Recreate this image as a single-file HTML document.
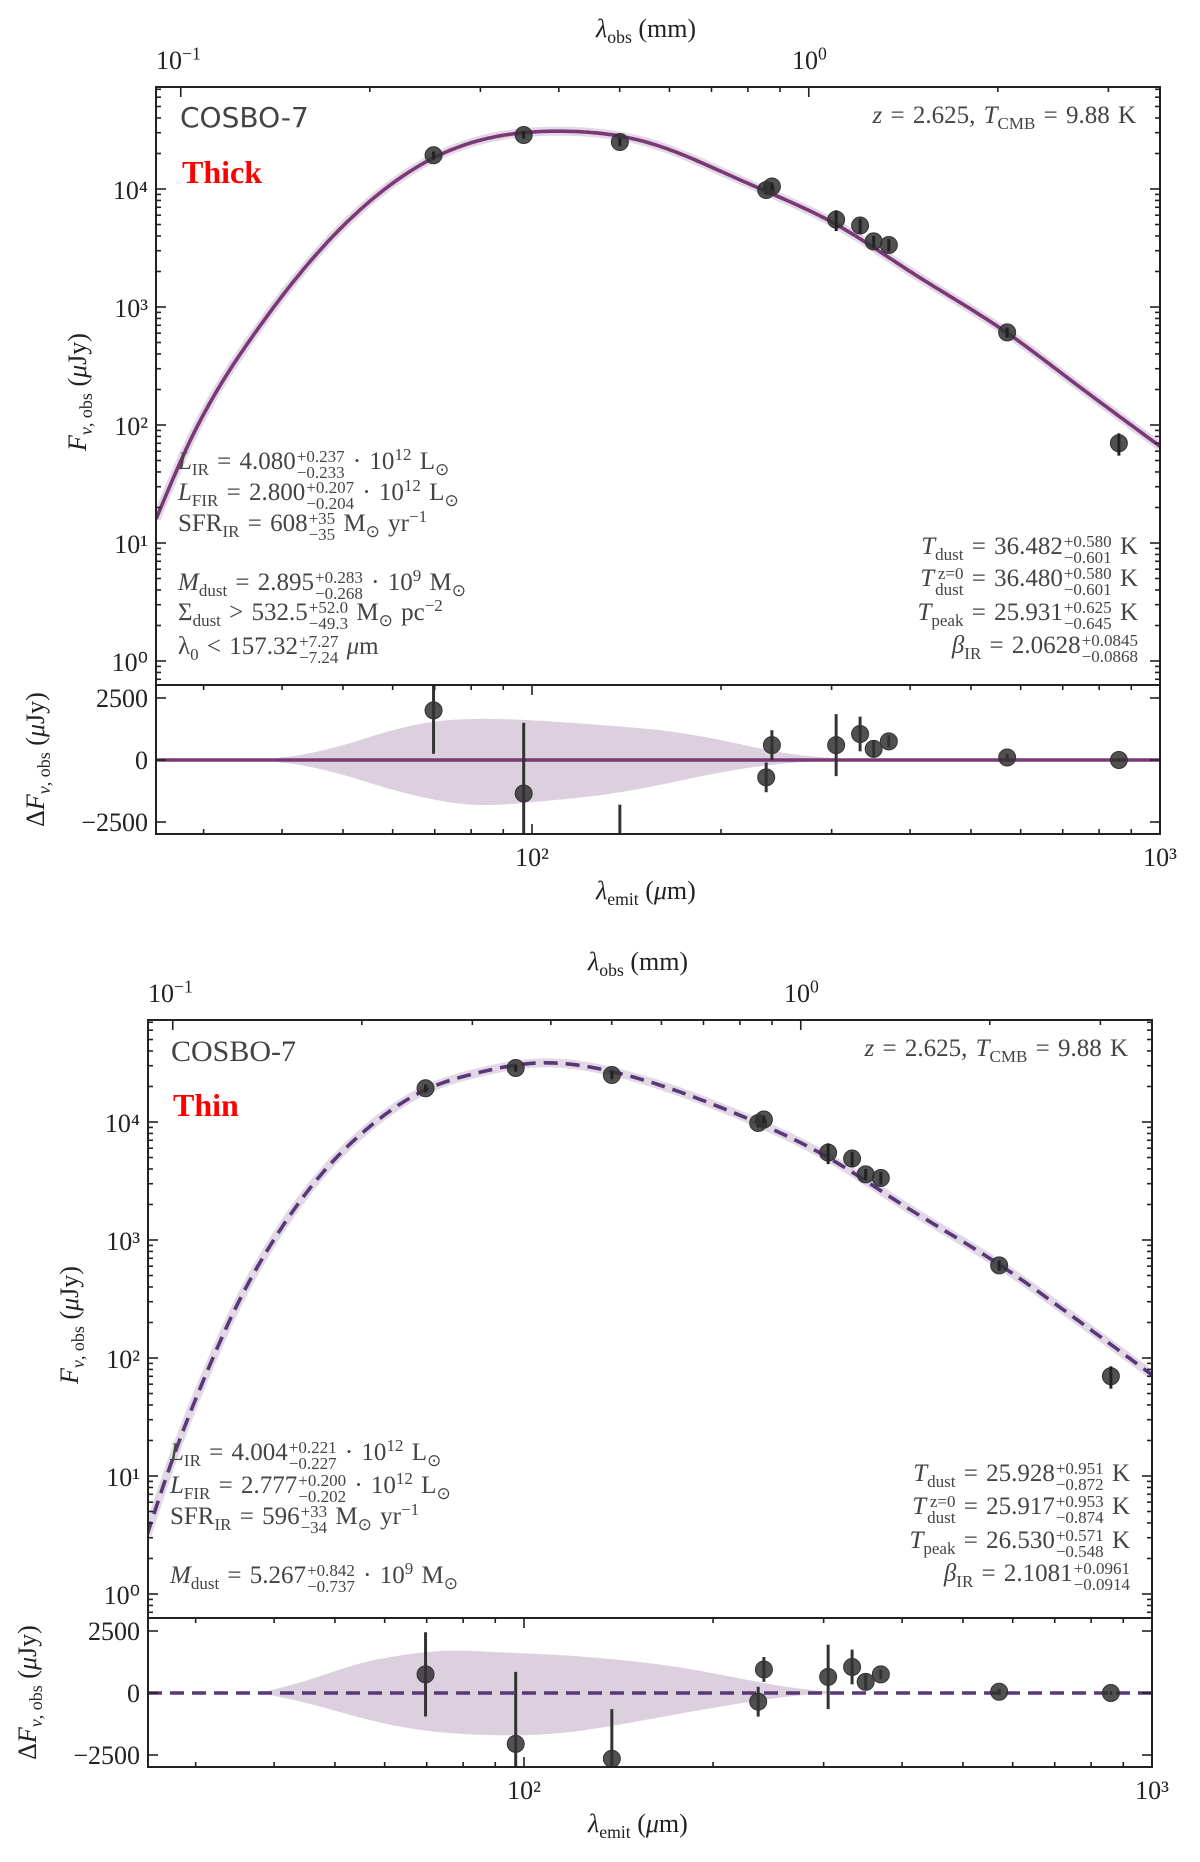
<!DOCTYPE html>
<html><head><meta charset="utf-8">
<style>
body{margin:0;background:#fff;}
#wrap{position:relative;width:1200px;height:1862px;overflow:hidden;font-family:"Liberation Serif",serif;}
svg{position:absolute;left:0;top:0;}
.t{position:absolute;white-space:nowrap;color:#444;font-size:25px;line-height:1;word-spacing:2px;}
.tr{text-align:right;}
.ss{display:inline-flex;flex-direction:column;font-size:0.68em;line-height:0.95;vertical-align:0.42em;margin-left:1px;}
.lab{position:absolute;white-space:nowrap;color:#222;font-size:26px;line-height:1;}
sub,sup{font-size:0.68em;line-height:0;}
.name{color:#444;font-size:30px;}
.red{color:#f00;font-weight:bold;font-size:32px;}
</style></head><body>
<div id="wrap">
<svg id="svg" width="1200" height="1862"></svg>

<!-- TOP PANEL TEXT -->
<div class="lab" style="left:596px;top:16px"><i>λ</i><sub>obs</sub> (mm)</div>
<div class="lab" style="left:156px;top:48px">10<sup>−1</sup></div>
<div class="lab" style="left:792px;top:48px">10<sup>0</sup></div>
<div class="t name" style="left:180px;top:104px;font-family:'DejaVu Sans',sans-serif;font-size:28px">COSBO-7</div>
<div class="t red" style="left:182px;top:156px">Thick</div>
<div class="t" style="right:64px;top:103px"><i>z</i> = 2.625, <i>T</i><sub>CMB</sub> = 9.88 K</div>
<div class="t" style="left:178px;top:449px"><i>L</i><sub>IR</sub> = 4.080<span class="ss"><span>+0.237</span><span>−0.233</span></span> · 10<sup>12</sup> L<sub>⊙</sub></div>
<div class="t" style="left:178px;top:480px"><i>L</i><sub>FIR</sub> = 2.800<span class="ss"><span>+0.207</span><span>−0.204</span></span> · 10<sup>12</sup> L<sub>⊙</sub></div>
<div class="t" style="left:178px;top:511px">SFR<sub>IR</sub> = 608<span class="ss"><span>+35</span><span>−35</span></span> M<sub>⊙</sub> yr<sup>−1</sup></div>
<div class="t" style="left:178px;top:570px"><i>M</i><sub>dust</sub> = 2.895<span class="ss"><span>+0.283</span><span>−0.268</span></span> · 10<sup>9</sup> M<sub>⊙</sub></div>
<div class="t" style="left:178px;top:600px">Σ<sub>dust</sub> &gt; 532.5<span class="ss"><span>+52.0</span><span>−49.3</span></span> M<sub>⊙</sub> pc<sup>−2</sup></div>
<div class="t" style="left:178px;top:634px">λ<sub>0</sub> &lt; 157.32<span class="ss"><span>+7.27</span><span>−7.24</span></span> <i>μ</i>m</div>
<div class="t tr" style="right:62px;top:534px"><i>T</i><sub>dust</sub> = 36.482<span class="ss"><span>+0.580</span><span>−0.601</span></span> K</div>
<div class="t tr" style="right:62px;top:566px"><i>T</i><span class="ss"><span>z=0</span><span>dust</span></span> = 36.480<span class="ss"><span>+0.580</span><span>−0.601</span></span> K</div>
<div class="t tr" style="right:62px;top:600px"><i>T</i><sub>peak</sub> = 25.931<span class="ss"><span>+0.625</span><span>−0.645</span></span> K</div>
<div class="t tr" style="right:62px;top:633px"><i>β</i><sub>IR</sub> = 2.0628<span class="ss"><span>+0.0845</span><span>−0.0868</span></span></div>
<div class="lab" style="left:596px;top:878px"><i>λ</i><sub>emit</sub> (<i>μ</i>m)</div>

<!-- BOTTOM PANEL TEXT -->
<div class="lab" style="left:588px;top:949px"><i>λ</i><sub>obs</sub> (mm)</div>
<div class="lab" style="left:148px;top:981px">10<sup>−1</sup></div>
<div class="lab" style="left:784px;top:981px">10<sup>0</sup></div>
<div class="t name" style="left:171px;top:1037px">COSBO-7</div>
<div class="t red" style="left:173px;top:1089px">Thin</div>
<div class="t" style="right:72px;top:1036px"><i>z</i> = 2.625, <i>T</i><sub>CMB</sub> = 9.88 K</div>
<div class="t" style="left:170px;top:1440px"><i>L</i><sub>IR</sub> = 4.004<span class="ss"><span>+0.221</span><span>−0.227</span></span> · 10<sup>12</sup> L<sub>⊙</sub></div>
<div class="t" style="left:170px;top:1473px"><i>L</i><sub>FIR</sub> = 2.777<span class="ss"><span>+0.200</span><span>−0.202</span></span> · 10<sup>12</sup> L<sub>⊙</sub></div>
<div class="t" style="left:170px;top:1504px">SFR<sub>IR</sub> = 596<span class="ss"><span>+33</span><span>−34</span></span> M<sub>⊙</sub> yr<sup>−1</sup></div>
<div class="t" style="left:170px;top:1563px"><i>M</i><sub>dust</sub> = 5.267<span class="ss"><span>+0.842</span><span>−0.737</span></span> · 10<sup>9</sup> M<sub>⊙</sub></div>
<div class="t tr" style="right:70px;top:1461px"><i>T</i><sub>dust</sub> = 25.928<span class="ss"><span>+0.951</span><span>−0.872</span></span> K</div>
<div class="t tr" style="right:70px;top:1494px"><i>T</i><span class="ss"><span>z=0</span><span>dust</span></span> = 25.917<span class="ss"><span>+0.953</span><span>−0.874</span></span> K</div>
<div class="t tr" style="right:70px;top:1528px"><i>T</i><sub>peak</sub> = 26.530<span class="ss"><span>+0.571</span><span>−0.548</span></span> K</div>
<div class="t tr" style="right:70px;top:1561px"><i>β</i><sub>IR</sub> = 2.1081<span class="ss"><span>+0.0961</span><span>−0.0914</span></span></div>
<div class="lab" style="left:588px;top:1811px"><i>λ</i><sub>emit</sub> (<i>μ</i>m)</div>
</div>

<script>
// ---- data ----
const obsLam = [69.7, 97, 138, 236, 241, 305, 333, 350, 370, 571, 860];
const obsFlux = [19300, 28700, 25000, 9800, 10500, 5500, 4900, 3600, 3350, 610, 70];
const obsFluxErr = [1500, 2000, 2000, 800, 800, 1100, 700, 400, 400, 60, 15];

const thickModelLam = [25.2, 28.5, 35.6, 45.5, 58, 69.5, 83.6, 111, 154, 200, 236, 305, 400, 571, 700, 1000];
const thickModelFlux = [16, 72, 530, 2850, 9770, 18200, 26300, 30900, 24500, 14100, 9550, 5010, 2000, 603, 270, 66];
const thickResid = [2000, -1350, -3700, -700, 600, 600, 1050, 450, 750, 100, 0];
const thickResidErr = [1750, 2850, 1900, 600, 600, 1250, 700, 350, 250, 150, 80];
const thickBandLam = [35, 40, 50, 60, 70, 80, 100, 130, 160, 200, 250, 300, 400];
const thickBandUp = [0, 100, 600, 1200, 1550, 1650, 1600, 1400, 1200, 800, 300, 80, 0];
const thickBandLo = [0, -100, -600, -1200, -1600, -1800, -1700, -1400, -1000, -500, -150, -30, 0];

const thinModelLam = [25.1, 27.6, 31.1, 35, 39.3, 44.3, 49.9, 56.2, 69.5, 83.4, 105, 135, 200, 236, 305, 400, 571, 700, 1000];
const thinModelFlux = [3.16, 14.1, 71, 288, 871, 2240, 4790, 8710, 18600, 25700, 31600, 27500, 14100, 9800, 5000, 2000, 620, 290, 72];
const thinResid = [750, -2050, -2650, -350, 950, 650, 1050, 450, 750, 50, 0];
const thinResidErr = [1700, 2900, 2000, 600, 500, 1300, 700, 300, 200, 120, 80];
const thinBandLam = [38, 45, 55, 65, 75, 90, 110, 140, 180, 230, 280, 330];
const thinBandUp = [0, 500, 1200, 1550, 1700, 1650, 1550, 1350, 1000, 500, 150, 0];
const thinBandLo = [0, -400, -1000, -1400, -1600, -1700, -1650, -1300, -800, -350, -80, 0];

const yTickLabels = ["10⁰","10¹","10²","10³","10⁴"];
const residTicks = [2500, 0, -2500];
const residTickLabels = ["2500", "0", "−2500"];

// ---- drawing ----
const NS = "http://www.w3.org/2000/svg";
const svg = document.getElementById('svg');
function mk(tag, attrs, parent) {
  const e = document.createElementNS(NS, tag);
  for (const k in attrs) e.setAttribute(k, attrs[k]);
  (parent || svg).appendChild(e);
  return e;
}
function spline(xs, ys) {
  const n = xs.length, h = [], a = [], l = [1], mu = [0], z = [0], c = new Array(n).fill(0), b = [], d = [];
  for (let i = 0; i < n - 1; i++) h.push(xs[i + 1] - xs[i]);
  for (let i = 1; i < n - 1; i++) a[i] = 3 / h[i] * (ys[i + 1] - ys[i]) - 3 / h[i - 1] * (ys[i] - ys[i - 1]);
  for (let i = 1; i < n - 1; i++) {
    l[i] = 2 * (xs[i + 1] - xs[i - 1]) - h[i - 1] * mu[i - 1];
    mu[i] = h[i] / l[i];
    z[i] = (a[i] - h[i - 1] * z[i - 1]) / l[i];
  }
  for (let j = n - 2; j >= 0; j--) {
    c[j] = (j === 0 ? 0 : z[j]) - (j === 0 ? 0 : mu[j]) * c[j + 1];
    b[j] = (ys[j + 1] - ys[j]) / h[j] - h[j] * (c[j + 1] + 2 * c[j]) / 3;
    d[j] = (c[j + 1] - c[j]) / (3 * h[j]);
  }
  return x => {
    let i = 0;
    while (i < n - 2 && x > xs[i + 1]) i++;
    const dx = x - xs[i];
    return ys[i] + b[i] * dx + c[i] * dx * dx + d[i] * dx * dx * dx;
  };
}
function linePath(pts) {
  return pts.map((p, i) => (i ? "L" : "M") + p[0].toFixed(1) + "," + p[1].toFixed(1)).join(" ");
}

function panel(cfg) {
  const {x0, x1, top, mid, bot, key, color, dash, mLam, mFlux, res, resErr, bLam, bUp, bLo} = cfg;
  const xAt100 = x0 + 376;
  const X = l => xAt100 + 628 * (Math.log10(l) - 2);
  const y1e4 = top + 102;
  const Y = f => y1e4 - 118 * (Math.log10(f) - 4);
  const yZero = top + 673;
  const YR = v => yZero - v * 62 / 2500;

  const cm = mk('clipPath', {id: 'cm' + key});
  mk('rect', {x: x0, y: top, width: x1 - x0, height: mid - top}, cm);
  const cr = mk('clipPath', {id: 'cr' + key});
  mk('rect', {x: x0, y: mid, width: x1 - x0, height: bot - mid}, cr);

  const gm = mk('g', {'clip-path': 'url(#cm' + key + ')'});
  
  
  const f = spline(mLam.map(Math.log10), mFlux.map(Math.log10));
  const lo = Math.log10(mLam[0]), hi = Math.log10(mLam[mLam.length - 1]);
  const pts = [];
  for (let k = 0; k <= 300; k++) {
    const lx = lo + (hi - lo) * k / 300;
    pts.push([X(Math.pow(10, lx)), Y(Math.pow(10, f(lx)))]);
  }
  const d = linePath(pts);
  const band = mk('path', {d: d, fill: 'none', stroke: '#e3d8e5', 'stroke-width': 9}, gm);
  
  
  const line = mk('path', {d: d, fill: 'none', stroke: color, 'stroke-width': 3.6, 'stroke-dasharray': dash}, gm);
  
  
  obsLam.forEach((l, i) => {
    const cx = X(l), cy = Y(obsFlux[i]);
    const c = mk('circle', {cx: cx, cy: cy, r: 8.5, fill: 'rgba(50,50,50,0.85)', stroke: '#333', 'stroke-width': 1}, gm);
    
    
    const eb = mk('line', {x1: cx, x2: cx, y1: Y(obsFlux[i] + obsFluxErr[i]), y2: Y(Math.max(1e-3, obsFlux[i] - obsFluxErr[i])), stroke: '#222', 'stroke-width': 3}, gm);
    
    
  });

  const gr = mk('g', {'clip-path': 'url(#cr' + key + ')'});
  
  
  const bx = bLam.map(Math.log10);
  const fu = spline(bx, bUp), fl = spline(bx, bLo);
  const up = [], dn = [];
  for (let k = 0; k <= 200; k++) {
    const lx = bx[0] + (bx[bx.length - 1] - bx[0]) * k / 200;
    up.push([X(Math.pow(10, lx)), YR(fu(lx))]);
    dn.push([X(Math.pow(10, lx)), YR(fl(lx))]);
  }
  const rb = mk('path', {d: linePath(up.concat(dn.reverse())) + " Z", fill: '#ddd0de', stroke: 'none'}, gr);
  
  
  const zl = mk('line', {x1: x0, x2: x1, y1: YR(0), y2: YR(0), stroke: color, 'stroke-width': 3.6, 'stroke-dasharray': dash}, gr);
  
  
  obsLam.forEach((l, i) => {
    const cx = X(l);
    const eb = mk('line', {x1: cx, x2: cx, y1: YR(res[i] + resErr[i]), y2: YR(res[i] - resErr[i]), stroke: '#333', 'stroke-width': 3}, gr);
    
    
    const c = mk('circle', {cx: cx, cy: YR(res[i]), r: 8.5, fill: 'rgba(50,50,50,0.85)', stroke: '#333', 'stroke-width': 1}, gr);
    
    
  });

  // ticks
  const tk = mk('g', {stroke: '#222', 'stroke-width': 1.6});
  
  
  for (let e = -1; e <= 4; e++) for (let m = 1; m < 10; m++) {
    const v = m * Math.pow(10, e), y = Y(v);
    if (y < top + 1 || y > mid - 1) continue;
    const len = m === 1 ? 10 : 5;
    mk('line', {x1: x0, x2: x0 + len, y1: y, y2: y}, tk);
    mk('line', {x1: x1, x2: x1 - len, y1: y, y2: y}, tk);
  }
  [0.1,0.2,0.3,0.4,0.5,0.6,0.7,0.8,0.9,1,2,3].forEach(mm => {
    const x = X(mm * 1000 / 3.625);
    if (x < x0 || x > x1) return;
    const len = (mm === 0.1 || mm === 1) ? 10 : 5;
    mk('line', {x1: x, x2: x, y1: top, y2: top + len}, tk);
  });
  for (let e = 1; e <= 2; e++) for (let m = 1; m < 10; m++) {
    const x = X(m * Math.pow(10, e));
    if (x < x0 + 1 || x > x1 + 1) continue;
    const len = m === 1 ? 10 : 5;
    mk('line', {x1: x, x2: x, y1: bot, y2: bot - len}, tk);
    mk('line', {x1: x, x2: x, y1: mid, y2: mid + len}, tk);
  }
  residTicks.forEach(v => {
    mk('line', {x1: x0, x2: x0 + 10, y1: YR(v), y2: YR(v)}, tk);
    mk('line', {x1: x1, x2: x1 - 10, y1: YR(v), y2: YR(v)}, tk);
  });

  const fr = mk('g', {fill: 'none', stroke: '#222', 'stroke-width': 2});
  
  
  mk('rect', {x: x0, y: top, width: x1 - x0, height: mid - top}, fr);
  mk('rect', {x: x0, y: mid, width: x1 - x0, height: bot - mid}, fr);

  // tick labels
  const tl = mk('g', {'font-family': 'Liberation Serif, serif', 'font-size': 26, fill: '#222'});
  
  
  yTickLabels.forEach((s, i) => {
    const y = Y(Math.pow(10, i));
    const t = mk('text', {x: x0 - 8, y: y + 10, 'text-anchor': 'end'}, tl);
    t.textContent = s;
  });
  residTickLabels.forEach((s, i) => {
    const t = mk('text', {x: x0 - 8, y: YR(residTicks[i]) + 9, 'text-anchor': 'end'}, tl);
    t.textContent = s;
  });
  [["10²", 100], ["10³", 1000]].forEach(a => {
    const t = mk('text', {x: X(a[1]), y: bot + 32, 'text-anchor': 'middle'}, tl);
    t.textContent = a[0];
  });
  const yl = mk('text', {x: 0, y: 0, 'text-anchor': 'middle', transform: 'translate(' + (x0 - 70) + ',' + ((top + mid) / 2 + 6) + ') rotate(-90)'}, tl);
  yl.innerHTML = '<tspan font-style="italic">F</tspan><tspan font-size="18" dy="6"><tspan font-style="italic">ν</tspan>, obs</tspan><tspan dy="-6"> (</tspan><tspan font-style="italic">μ</tspan>Jy)';
  
  
  const rl = mk('text', {x: 0, y: 0, 'text-anchor': 'middle', transform: 'translate(' + (x0 - 112) + ',' + ((mid + bot) / 2) + ') rotate(-90)'}, tl);
  rl.innerHTML = 'Δ<tspan font-style="italic">F</tspan><tspan font-size="18" dy="6"><tspan font-style="italic">ν</tspan>, obs</tspan><tspan dy="-6"> (</tspan><tspan font-style="italic">μ</tspan>Jy)';
  
  
}

panel({x0: 156, x1: 1160, top: 87, mid: 685, bot: 834, key: 'thick', color: '#7a3877', dash: 'none',
  mLam: thickModelLam, mFlux: thickModelFlux, res: thickResid, resErr: thickResidErr,
  bLam: thickBandLam, bUp: thickBandUp, bLo: thickBandLo});
panel({x0: 148, x1: 1152, top: 1020, mid: 1618, bot: 1767, key: 'thin', color: '#583879', dash: '14,8',
  mLam: thinModelLam, mFlux: thinModelFlux, res: thinResid, resErr: thinResidErr,
  bLam: thinBandLam, bUp: thinBandUp, bLo: thinBandLo});
</script>
</body></html>
